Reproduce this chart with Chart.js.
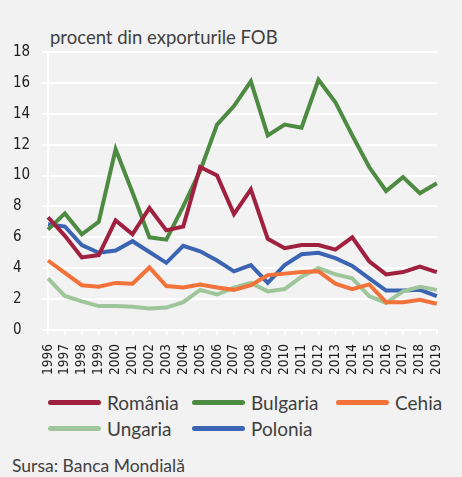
<!DOCTYPE html>
<html lang="ro">
<head>
    <meta charset="UTF-8">
    <title>Procent din exporturile FOB</title>
    <script src="https://cdn.jsdelivr.net/npm/chart.js"></script>
    <style>
        body {
            margin: 0;
            background-color: #f2f2f2;
            font-family: Lato, "Open Sans", sans-serif;
            color: #404040;
        }
        .wrap {
            position: relative;
            width: 462px;
            height: 477px;
            overflow: hidden;
        }
        .chart-box {
            position: absolute;
            left: 0;
            top: 0;
            width: 462px;
            height: 385px;
        }
        .title {
            position: absolute;
            left: 50px;
            top: 26px;
            font-size: 18.5px;
            white-space: nowrap;
        }
        .legend {
            position: absolute;
            left: 48px;
            top: 389px;
            width: 440px;
            display: flex;
            flex-wrap: wrap;
        }
        .legend-item {
            width: 144px;
            height: 26px;
            display: flex;
            align-items: center;
            font-size: 19px;
        }
        .legend-line {
            width: 53px;
            height: 5px;
            border-radius: 3px;
            margin-right: 6px;
        }
        .source {
            position: absolute;
            left: 12px;
            top: 455px;
            font-size: 17.5px;
            white-space: nowrap;
        }
    </style>
</head>
<body>
    <div class="wrap">
        <div class="title">procent din exporturile FOB</div>
        <div class="chart-box">
            <canvas id="fobChart"></canvas>
        </div>
        <div class="legend" id="legend"></div>
        <div class="source">Sursa: Banca Mondială</div>
    </div>

    <script>
        const years = ['1996', '1997', '1998', '1999', '2000', '2001', '2002', '2003', '2004', '2005', '2006', '2007',
                       '2008', '2009', '2010', '2011', '2012', '2013', '2014', '2015', '2016', '2017', '2018', '2019'];

        const romania  = [7.3, 6.1, 4.7, 4.85, 7.1, 6.2, 7.9, 6.45, 6.7, 10.55, 10.0, 7.5, 9.1, 5.9, 5.3, 5.5, 5.5, 5.2, 6.0, 4.45, 3.6, 3.75, 4.1, 3.75];
        const bulgaria = [6.5, 7.55, 6.2, 7.0, 11.7, 8.9, 6.0, 5.85, 8.0, 10.3, 13.3, 14.5, 16.1, 12.6, 13.3, 13.1, 16.2, 14.75, 12.6, 10.55, 9.0, 9.9, 8.85, 9.5];
        const cehia    = [4.5, 3.7, 2.9, 2.8, 3.05, 3.0, 4.05, 2.85, 2.75, 2.95, 2.75, 2.6, 2.9, 3.55, 3.65, 3.75, 3.8, 3.0, 2.65, 2.95, 1.8, 1.8, 1.95, 1.7];
        const ungaria  = [3.35, 2.2, 1.85, 1.55, 1.55, 1.5, 1.4, 1.45, 1.8, 2.6, 2.3, 2.75, 3.05, 2.5, 2.65, 3.45, 4.0, 3.6, 3.35, 2.2, 1.75, 2.5, 2.8, 2.6];
        const polonia  = [6.85, 6.7, 5.5, 5.0, 5.15, 5.75, 5.05, 4.35, 5.45, 5.1, 4.5, 3.8, 4.2, 3.05, 4.2, 4.9, 5.0, 4.65, 4.15, 3.35, 2.55, 2.55, 2.6, 2.2];

        const seriesNames  = ['România', 'Bulgaria', 'Cehia', 'Ungaria', 'Polonia'];
        const seriesValues = [romania, bulgaria, cehia, ungaria, polonia];
        const seriesColors = ['#a0203f', '#4c8b41', '#f2723a', '#9ec69a', '#3b64b3'];

        const yTicks = [0, 2, 4, 6, 8, 10, 12, 14, 16, 18];

        const narrow = '"DejaVu Sans Condensed", "Liberation Sans Narrow", sans-serif';

        const datasets = seriesNames.map((name, i) => ({
            label: name,
            data: seriesValues[i],
            borderColor: seriesColors[i],
            backgroundColor: seriesColors[i],
            borderWidth: 4,
            pointRadius: 0,
            tension: 0,
            fill: false
        }));

        const ctx = document.getElementById('fobChart').getContext('2d');
        new Chart(ctx, {
            type: 'line',
            data: { labels: years, datasets: datasets },
            options: {
                responsive: true,
                maintainAspectRatio: false,
                animation: false,
                layout: { padding: { top: 52, left: 13, right: 9, bottom: 0 } },
                plugins: {
                    legend: { display: false },
                    tooltip: { enabled: false }
                },
                scales: {
                    x: {
                        offset: false,
                        grid: { drawOnChartArea: false, drawTicks: true, tickLength: 5, color: '#ffffff', lineWidth: 1.5 },
                        border: { display: false },
                        ticks: {
                            autoSkip: false,
                            maxRotation: 90,
                            minRotation: 90,
                            padding: 9,
                            color: '#1e1e1e',
                            font: { family: narrow, size: 13.5 }
                        },
                        afterFit: (scale) => { scale.height = 55; }
                    },
                    y: {
                        min: 0,
                        max: 18,
                        afterBuildTicks: (scale) => { scale.ticks = yTicks.map(v => ({ value: v })); },
                        grid: { color: '#ffffff', lineWidth: 2, tickLength: 6 },
                        border: { display: true, color: '#ffffff', width: 2 },
                        ticks: {
                            crossAlign: 'far',
                            color: '#1e1e1e',
                            font: { family: narrow, size: 15 }
                        },
                        afterFit: (scale) => { scale.width = 35; }
                    }
                }
            }
        });

        const legend = document.getElementById('legend');
        seriesNames.forEach((name, i) => {
            const item = document.createElement('div');
            item.className = 'legend-item';
            item.innerHTML = `<span class="legend-line" style="background:${seriesColors[i]}"></span>${name}`;
            legend.appendChild(item);
        });
    </script>
</body>
</html>
